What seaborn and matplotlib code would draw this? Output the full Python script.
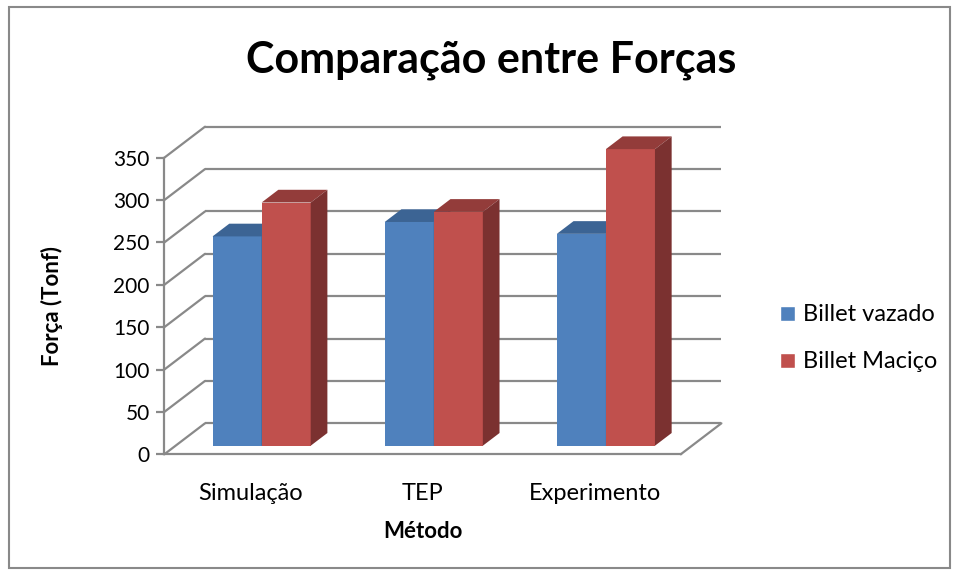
import matplotlib
matplotlib.use("Agg")
import matplotlib.pyplot as plt
from matplotlib.patches import Polygon, Rectangle
import seaborn as sns
import pandas as pd

# ---- data ----
categories = ["Simulação", "TEP", "Experimento"]
series = ["Billet vazado", "Billet Maciço"]
billet_vazado = [247, 264, 250]
billet_macico = [287, 276, 350]
y_ticks = [0, 50, 100, 150, 200, 250, 300, 350]

front_colors = {"Billet vazado": "#4F81BD", "Billet Maciço": "#C0504D"}
top_colors = {"Billet vazado": "#3C6494", "Billet Maciço": "#933C3A"}
side_colors = {"Billet vazado": "#325680", "Billet Maciço": "#7B3130"}
grid_color = "#898989"

df = pd.DataFrame({
    "Método": categories * 2,
    "Força": billet_vazado + billet_macico,
    "Série": [series[0]] * 3 + [series[1]] * 3,
})

sns.set_theme(style="white")
plt.rcParams["font.family"] = ["Lato", "DejaVu Sans"]
plt.rcParams["text.color"] = "black"
plt.rcParams["axes.labelcolor"] = "black"
plt.rcParams["xtick.color"] = "black"
plt.rcParams["ytick.color"] = "black"

W, H, DPI = 959, 575, 100
fig = plt.figure(figsize=(W / DPI, H / DPI), dpi=DPI)

# front plane of the plot box, in pixels
left_px, right_px, bottom_px, top_px = 164.3, 680.7, 454.3, 157.7
ax = fig.add_axes([left_px / W, 1 - bottom_px / H,
                   (right_px - left_px) / W, (bottom_px - top_px) / H])
ax.set_xlim(-0.5, 2.5)
ax.set_ylim(0, 350)

# depth of the 3D box expressed in data units
px_per_x = (right_px - left_px) / 3
px_per_y = (bottom_px - top_px) / 350
DX = 40.7 / px_per_x
DY = 31.0 / px_per_y
bar_front = 0.277   # fraction of depth where bar front faces sit
bar_depth = 0.41    # fraction of depth occupied by the bars

# back wall gridlines and left wall diagonals
for t in y_ticks:
    ax.plot([-0.5 + DX, 2.5 + DX], [t + DY, t + DY], color=grid_color,
            lw=1.6, clip_on=False, zorder=1, solid_capstyle="butt")
    ax.plot([-0.5, -0.5 + DX], [t, t + DY], color=grid_color,
            lw=1.6, clip_on=False, zorder=1)
# floor right edge
ax.plot([2.5, 2.5 + DX], [0, DY], color=grid_color, lw=1.6,
        clip_on=False, zorder=1)

sns.barplot(data=df, x="Método", y="Força", hue="Série", hue_order=series,
            palette=front_colors, width=0.57, saturation=1, ax=ax,
            legend=True, zorder=3)

sx, sy = bar_front * DX, bar_front * DY
bx, by = bar_depth * DX, bar_depth * DY
bars = [p for p in ax.patches if isinstance(p, Rectangle)
        and p.get_width() > 0 and p.get_height() > 0]
for i, p in enumerate(bars):
    name = series[0] if i < 3 else series[1]
    z = 3 if name == series[0] else 4
    p.set_x(p.get_x() + sx)
    p.set_y(sy)
    p.set_zorder(z)
    p.set_edgecolor("none")
    p.set_clip_on(False)
    x0, x1 = p.get_x(), p.get_x() + p.get_width()
    h = p.get_height() + sy
    top = Polygon([(x0, h), (x1, h), (x1 + bx, h + by), (x0 + bx, h + by)],
                  closed=True, facecolor=top_colors[name], edgecolor="none",
                  zorder=z + 0.1, clip_on=False)
    side = Polygon([(x1, sy), (x1 + bx, sy + by), (x1 + bx, h + by), (x1, h)],
                   closed=True, facecolor=side_colors[name], edgecolor="none",
                   zorder=z + 0.1, clip_on=False)
    ax.add_patch(top)
    ax.add_patch(side)

# axes styling: front vertical axis and floor front edge
for s in ["top", "right"]:
    ax.spines[s].set_visible(False)
for s in ["left", "bottom"]:
    ax.spines[s].set_color(grid_color)
    ax.spines[s].set_linewidth(1.6)
    ax.spines[s].set_zorder(2)
ax.set_yticks(y_ticks)
ax.set_yticklabels([str(t) for t in y_ticks])
ax.tick_params(axis="y", which="both", left=True, length=5.5, width=1.6,
               color=grid_color, labelsize=15, pad=5, labelcolor="black")
ax.tick_params(axis="x", bottom=False, labelsize=17, pad=15, labelcolor="black")
ax.set_xticks(range(len(categories)))
ax.set_xticklabels(categories)
ax.grid(False)
ax.set_facecolor("none")

ax.set_xlabel("Método", fontsize=16, fontweight="bold", labelpad=12)
ax.set_ylabel("Força (Tonf)", fontsize=16, fontweight="bold", labelpad=36)

leg = ax.legend(loc="upper left", bbox_to_anchor=(771 / W, 1 - 295 / H),
                bbox_transform=fig.transFigure, frameon=False, fontsize=17,
                handlelength=0.6, handleheight=0.6, handletextpad=0.35,
                labelspacing=1.1, borderaxespad=0)

fig.text(491 / W, 1 - 60 / H, "Comparação entre Forças", fontsize=31,
         fontweight="bold", ha="center", va="center")

# chart border
fig.add_artist(Rectangle((9 / W, 7 / H), (950 - 9) / W, (568 - 7) / H,
                         transform=fig.transFigure, fill=False,
                         edgecolor=grid_color, lw=1.5))

fig.savefig("out.png", dpi=DPI, facecolor="white")
